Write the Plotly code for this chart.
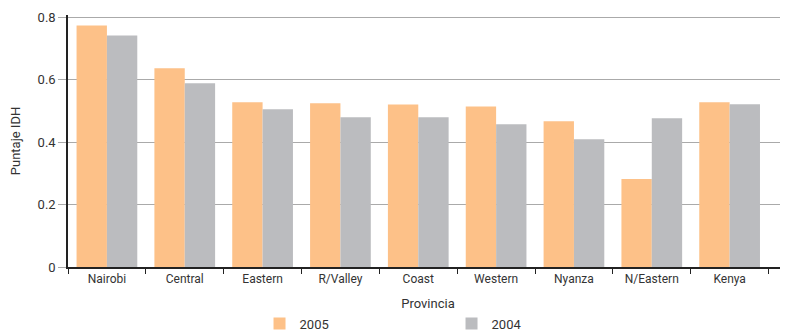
import plotly.graph_objects as go

categories = ["Nairobi", "Central", "Eastern", "R/Valley", "Coast", "Western", "Nyanza", "N/Eastern", "Kenya"]
values_2005 = [0.774, 0.637, 0.528, 0.525, 0.521, 0.515, 0.467, 0.282, 0.528]
values_2004 = [0.742, 0.589, 0.506, 0.480, 0.480, 0.458, 0.410, 0.477, 0.522]
y_ticks = [0, 0.2, 0.4, 0.6, 0.8]
y_tick_labels = ["0", "0.2", "0.4", "0.6", "0.8"]

FONT = "Roboto, Arial"

fig = go.Figure()
fig.add_trace(go.Bar(name="2005", x=categories, y=values_2005, marker_color="#FDC188", marker_line_width=0))
fig.add_trace(go.Bar(name="2004", x=categories, y=values_2004, marker_color="#BBBCBF", marker_line_width=0))

# page body has an 8px margin; figure sized so it fills the 788x336 window
fig.update_layout(
    width=780, height=328,
    margin=dict(l=60, r=0, t=7, b=69, autoexpand=False),
    paper_bgcolor="white", plot_bgcolor="white",
    barmode="group", bargap=0.22, bargroupgap=0,
    font=dict(family=FONT, size=12, color="#333333"),
    legend=dict(orientation="h", x=0.266, xanchor="left", y=-0.165, yanchor="top",
                entrywidth=147, entrywidthmode="pixels", tracegroupgap=0,
                font=dict(size=13, color="#333333"), itemclick=False),
    showlegend=True,
)
fig.update_xaxes(
    range=[-0.5, 8.75], tickson="boundaries", ticks="outside", ticklen=5, tickcolor="#222",
    showline=True, linecolor="#222", linewidth=1.5, showgrid=False,
    title=dict(text="Provincia", font=dict(size=13), standoff=14),
    tickfont=dict(size=12), automargin=False,
)
fig.update_yaxes(
    range=[0, 0.808], tickvals=y_ticks, ticktext=y_tick_labels,
    ticks="outside", ticklen=8, tickcolor="#aaaaaa",
    showline=True, linecolor="#222", linewidth=1.5,
    showgrid=True, gridcolor="#aaaaaa", gridwidth=1, zeroline=False,
    title=dict(text="Puntaje IDH", font=dict(size=13), standoff=14),
    tickfont=dict(size=13), automargin=False,
)

fig.write_html("out.html")
